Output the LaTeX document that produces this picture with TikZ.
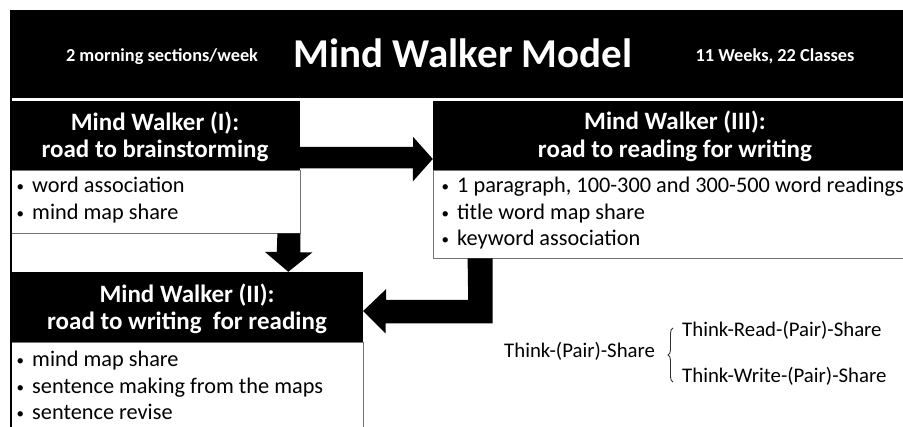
\documentclass[tikz,border=0pt]{standalone}
\usepackage{fontspec}
\setmainfont{Carlito}
\usetikzlibrary{decorations.pathreplacing,calc}
\begin{document}
\begin{tikzpicture}[x=1pt,y=-1pt,
  blk/.style={fill=black,draw=none,inner sep=0pt,minimum width=#1},
  bodybox/.style={draw=black!55,line width=0.8pt,fill=white,inner sep=0pt,minimum width=#1},
  ttl/.style={text=white,font=\bfseries\fontsize{25}{30}\selectfont,inner sep=0pt,anchor=base},
  hdrtxt/.style={text=white,font=\bfseries\fontsize{18.3}{22}\selectfont,inner sep=0pt,anchor=base},
  itm/.style={anchor=base west,font=\fontsize{22.3}{26}\selectfont,inner sep=0pt},
  think/.style={font=\fontsize{20.8}{24}\selectfont,inner sep=0pt,anchor=base west},
  bigarrow/.style={fill=black}]
\useasboundingbox (0,0) rectangle (903,427);
\newcommand{\bul}{\makebox[17pt][l]{\hspace{1.5pt}\raisebox{1pt}{\fontsize{15}{15}\selectfont •}}}
% header
\node[blk=893pt,minimum height=88pt] (h0) at (456.5,54) {};
\node[hdrtxt] (t1) at (162,62) {2 morning sections/week};
\node[text=white,font=\bfseries\fontsize{41}{48}\selectfont,inner sep=0pt,anchor=base] (t2) at (463,68) {Mind Walker Model};
\node[hdrtxt] (t3) at (775,62) {11 Weeks, 22 Classes};
% box I
\node[bodybox=290pt,minimum height=63pt] (b1) at (155,201.5) {};
\node[blk=290pt,minimum height=69pt] (h1) at (155,135.5) {};
\node[ttl] (h1a) at (155,131) {Mind Walker (I):};
\node[ttl] (h1b) at (155,158) {road to brainstorming};
\node[itm] (i11) at (15,193) {\bul word association};
\node[itm] (i12) at (15,219.5) {\bul mind map share};
% box III
\node[bodybox=480pt,minimum height=88pt] (b3) at (673,214) {};
\node[blk=480pt,minimum height=69pt] (h3) at (673,135.5) {};
\node[ttl] (h3a) at (675,130) {Mind Walker (III):};
\node[ttl] (h3b) at (675,158) {road to reading for writing};
\node[itm] (i31) at (440,193) {\bul 1 paragraph, 100-300 and 300-500 word readings};
\node[itm] (i32) at (440,219.5) {\bul title word map share};
\node[itm] (i33) at (440,246) {\bul keyword association};
% box II
\node[bodybox=353pt,minimum height=90pt] (b2) at (186.5,387) {};
\node[blk=353pt,minimum height=70pt] (h2) at (186.5,307) {};
\node[ttl] (h2a) at (187,303) {Mind Walker (II):};
\node[ttl] (h2b) at (187,330) {road to writing\ \ for reading};
\node[itm] (i21) at (15,367) {\bul mind map share};
\node[itm] (i22) at (15,393.5) {\bul sentence making from the maps};
\node[itm] (i23) at (15,420) {\bul sentence revise};
% left border
\draw[line width=2pt] (11,98) -- (11,430);
% arrows
\fill[bigarrow] ($(h1.east)+(0,11.5)$) -- ++(113,0) -- ++(0,-10) -- ($(h3.west)+(0,23.5)$) -- ++(-20,22.5) -- ++(0,-13) -- ++(-113,0) -- cycle;
\fill[bigarrow] ($(b1.south east)+(-23,0)$) -- ++(23,0) -- ++(0,19) -- ++(12,0) -- ($(h2.north west)+(278.5,0)$) -- ++(-23.5,-20) -- ++(12,0) -- cycle;
\fill[bigarrow] ($(b3.south west)+(35,0)$) -- ++(25,0) -- ++(0,65) -- ++(-107,0) -- ++(0,10) -- ($(h2.east)+(0,4)$) -- ++(23,-22) -- ++(0,11) -- ++(82,0) -- cycle;
% think-pair-share
\node[think] (tp) at (504,358) {Think-(Pair)-Share};
\node[think] (tr) at (682,337) {Think-Read-(Pair)-Share};
\node[think] (tw) at (682,383) {Think-Write-(Pair)-Share};
\draw[line width=0.9pt,black!80,decorate,decoration={brace,amplitude=5pt}] (673,382) -- (673,328);
\end{tikzpicture}
\end{document}
